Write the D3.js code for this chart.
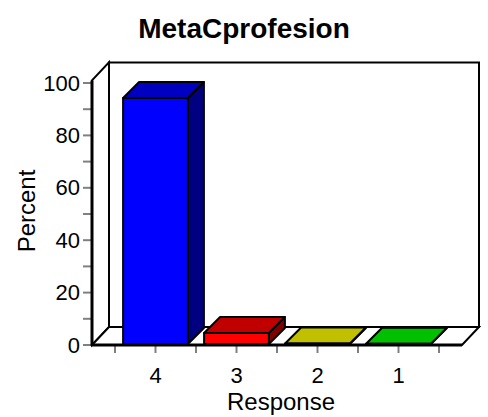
<!DOCTYPE html>
<html>
<head>
<meta charset="utf-8">
<script src="https://cdn.jsdelivr.net/npm/d3@7"></script>
<style>
  body { margin: 0; background: #fff; }
  text { font-family: "Liberation Sans", Arial, sans-serif; }
</style>
</head>
<body>
<div id="chart"></div>
<script>
// data
var categories = ["4", "3", "2", "1"];
var percents   = [94.3, 4.6, 0.6, 0.5];
var frontCols  = ["#0000ff", "#ff0000", "#c0c000", "#00c000"];
var topCols    = ["#0000c0", "#c00000", "#c0c000", "#00c000"];
var sideCols   = ["#000080", "#800000", "#808000", "#008000"];
var yTicks     = [0, 20, 40, 60, 80, 100];
var yMinor     = [10, 30, 50, 70, 90];

var width = 488, height = 417;
var x0 = 92, x1 = 462;   // front floor line
var dx = 17, dy = 18;    // depth of walls
var bdx = 16, bdy = 16;  // depth of bars

var svg = d3.select("#chart").append("svg")
  .attr("width", width).attr("height", height);

var y = d3.scaleLinear().domain([0, 100]).range([345, 83]);
var x = d3.scaleBand().domain(categories).range([115, 439])
  .paddingInner(0.2).paddingOuter(0.1);

function poly(pts) { return "M" + pts.map(function (p) { return p.join(","); }).join("L") + "Z"; }

var yTop = y(101);
// back wall
svg.append("path")
  .attr("d", poly([[x0 + dx, y(0) - dy], [x1 + dx, y(0) - dy], [x1 + dx, yTop - dy], [x0 + dx, yTop - dy]]))
  .attr("fill", "#fff").attr("stroke", "#000").attr("stroke-width", 2);
// left wall
svg.append("path")
  .attr("d", poly([[x0, y(0)], [x0 + dx, y(0) - dy], [x0 + dx, yTop - dy], [x0, yTop]]))
  .attr("fill", "#fff").attr("stroke", "#000").attr("stroke-width", 2);
// floor
svg.append("path")
  .attr("d", poly([[x0, y(0)], [x1, y(0)], [x1 + dx, y(0) - dy], [x0 + dx, y(0) - dy]]))
  .attr("fill", "#fff").attr("stroke", "#000").attr("stroke-width", 2);

// y ticks
svg.selectAll(".ytick").data(yTicks.concat(yMinor)).enter().append("line")
  .attr("x1", x0 - 9).attr("x2", x0)
  .attr("y1", function (d) { return y(d); }).attr("y2", function (d) { return y(d); })
  .attr("stroke", "#808080").attr("stroke-width", 2);
svg.selectAll(".ylab").data(yTicks).enter().append("text")
  .attr("x", x0 - 12).attr("y", function (d) { return y(d) + 7.5; })
  .attr("text-anchor", "end").attr("font-size", 22).text(function (d) { return d; });

// x ticks at band centres and boundaries
var step = x.step();
var xt = [];
categories.forEach(function (c, i) {
  xt.push(x.range()[0] + i * step);
  xt.push(x(c) + x.bandwidth() / 2);
});
xt.push(x.range()[1]);
svg.selectAll(".xtick").data(xt).enter().append("line")
  .attr("x1", function (d) { return d; }).attr("x2", function (d) { return d; })
  .attr("y1", y(0)).attr("y2", y(0) + 8)
  .attr("stroke", "#808080").attr("stroke-width", 2);

// bars
categories.forEach(function (c, i) {
  var l = x(c), r = l + x.bandwidth(), b = y(0) - 1, t = y(percents[i]);
  var g = svg.append("g").attr("stroke", "#000").attr("stroke-width", 2).attr("stroke-linejoin", "round");
  g.append("path").attr("d", poly([[r, b], [r + bdx, b - bdy], [r + bdx, t - bdy], [r, t]])).attr("fill", sideCols[i]);
  g.append("path").attr("d", poly([[l, t], [r, t], [r + bdx, t - bdy], [l + bdx, t - bdy]])).attr("fill", topCols[i]);
  g.append("path").attr("d", poly([[l, b], [r, b], [r, t], [l, t]])).attr("fill", frontCols[i]);
});

// front axis lines
svg.append("line").attr("x1", x0).attr("x2", x0).attr("y1", y(0) + 1).attr("y2", yTop)
  .attr("stroke", "#000").attr("stroke-width", 3);
svg.append("line").attr("x1", x0).attr("x2", x1).attr("y1", y(0)).attr("y2", y(0))
  .attr("stroke", "#000").attr("stroke-width", 3);

// x labels
svg.selectAll(".xlab").data(categories).enter().append("text")
  .attr("x", function (d) { return x(d) + x.bandwidth() / 2; }).attr("y", 383)
  .attr("text-anchor", "middle").attr("font-size", 22).text(function (d) { return d; });

svg.append("text").attr("x", 281).attr("y", 410).attr("text-anchor", "middle")
  .attr("font-size", 24).text("Response");
svg.append("text").attr("transform", "translate(35,211) rotate(-90)")
  .attr("text-anchor", "middle").attr("font-size", 24).text("Percent");
svg.append("text").attr("x", 244).attr("y", 38).attr("text-anchor", "middle")
  .attr("font-size", 28).attr("font-weight", "bold").text("MetaCprofesion");
</script>
</body>
</html>
